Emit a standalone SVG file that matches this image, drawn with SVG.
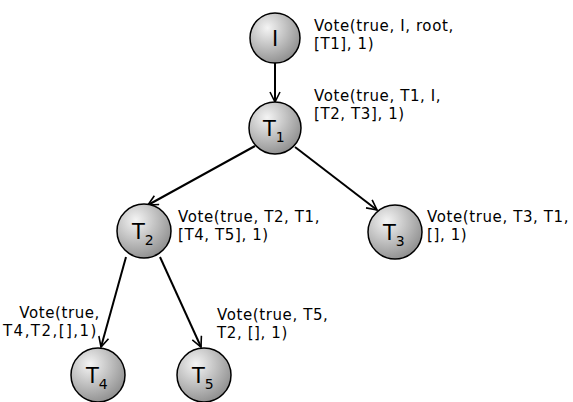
<svg xmlns="http://www.w3.org/2000/svg" width="573" height="402" viewBox="0 0 573 402">
<defs>
<radialGradient id="g" cx="0.35" cy="0.3" r="0.75">
<stop offset="0" stop-color="#f4f4f4"/>
<stop offset="1" stop-color="#8e8e8e"/>
</radialGradient>
<marker id="arr" viewBox="0 0 12 12" refX="11" refY="6" markerWidth="12" markerHeight="12" markerUnits="userSpaceOnUse" orient="auto">
<path d="M1,1 L11,6 L1,11" fill="none" stroke="#000" stroke-width="1.6"/>
</marker>
</defs>
<style>
.n{fill:url(#g);stroke:#000;stroke-width:1.5}
.nl{font-family:"DejaVu Sans",Verdana,sans-serif;font-size:21px;fill:#000}
.sub{font-size:14px}
.lb{font-family:"DejaVu Sans",Verdana,sans-serif;font-size:15px;letter-spacing:0.6px;fill:#000}
.e{stroke:#000;stroke-width:2;fill:none;marker-end:url(#arr)}
</style>
<rect width="573" height="402" fill="#fff"/>
<g id="edges">
<line class="e" x1="275" y1="63" x2="275" y2="102"/>
<line class="e" x1="255" y1="146" x2="148" y2="205"/>
<line class="e" x1="295" y1="147" x2="377" y2="210"/>
<line class="e" x1="126" y1="257" x2="101" y2="347"/>
<line class="e" x1="160" y1="257" x2="201" y2="347"/>
</g>
<g id="I">
<circle class="n" cx="275" cy="38" r="25"/>
<text class="nl" x="275" y="46" text-anchor="middle">I</text>
<text class="lb" x="314" y="31">Vote(true, I, root,</text>
<text class="lb" x="314" y="49">[T1], 1)</text>
</g>
<g id="T1">
<circle class="n" cx="275" cy="128" r="26"/>
<text class="nl" x="263" y="136">T<tspan class="sub" dy="6">1</tspan></text>
<text class="lb" x="314" y="101">Vote(true, T1, I,</text>
<text class="lb" x="314" y="119">[T2, T3], 1)</text>
</g>
<g id="T2">
<circle class="n" cx="144" cy="231" r="27"/>
<text class="nl" x="132" y="239">T<tspan class="sub" dy="6">2</tspan></text>
<text class="lb" x="178" y="222">Vote(true, T2, T1,</text>
<text class="lb" x="178" y="240">[T4, T5], 1)</text>
</g>
<g id="T3">
<circle class="n" cx="395" cy="232" r="27"/>
<text class="nl" x="383" y="240">T<tspan class="sub" dy="6">3</tspan></text>
<text class="lb" x="427" y="222">Vote(true, T3, T1,</text>
<text class="lb" x="427" y="240">[], 1)</text>
</g>
<g id="T4">
<circle class="n" cx="98" cy="375" r="27"/>
<text class="nl" x="86" y="383">T<tspan class="sub" dy="6">4</tspan></text>
<text class="lb" x="100" y="318" text-anchor="end">Vote(true,</text>
<text class="lb" x="3" y="336" textLength="94" lengthAdjust="spacing">T4,T2,[],1)</text>
</g>
<g id="T5">
<circle class="n" cx="204" cy="375" r="27"/>
<text class="nl" x="192" y="383">T<tspan class="sub" dy="6">5</tspan></text>
<text class="lb" x="217" y="320">Vote(true, T5,</text>
<text class="lb" x="217" y="338">T2, [], 1)</text>
</g>
</svg>
